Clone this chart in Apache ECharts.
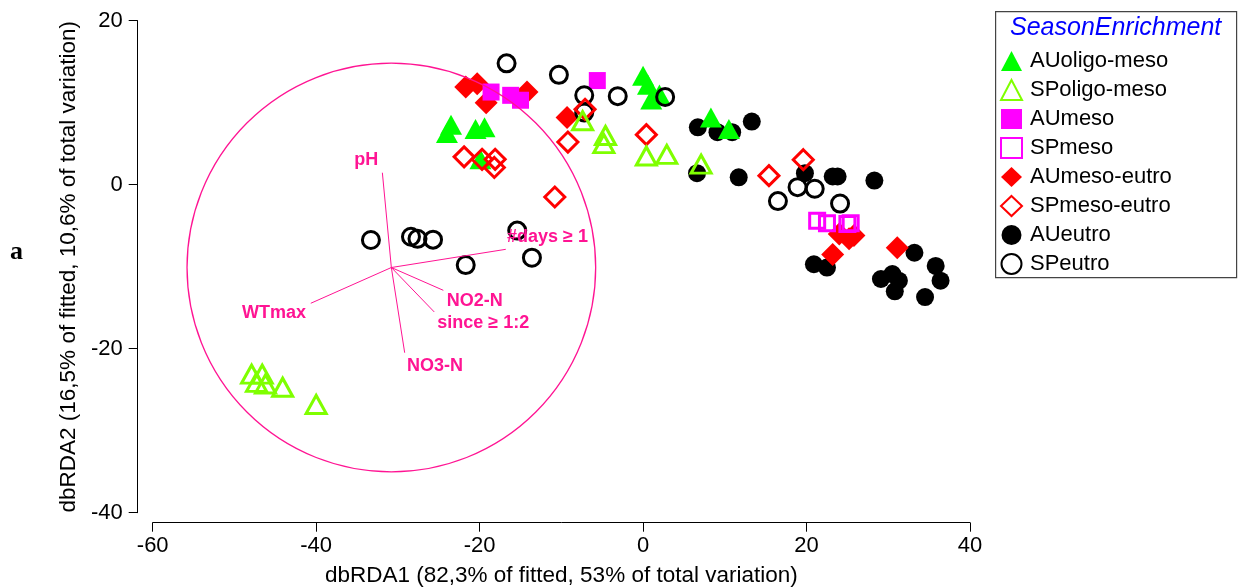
<!DOCTYPE html>
<html>
<head>
<meta charset="utf-8">
<script src="https://cdn.jsdelivr.net/npm/echarts@6/dist/echarts.min.js"></script>
<style>
  html, body { margin: 0; padding: 0; background: #ffffff; }
  #chart { width: 1239px; height: 587px; }
</style>
</head>
<body>
<div id="chart"></div>
<script>
// Axis ranges and tick spacing
const xRange = [-60, 40];
const yRange = [-40, 20];
const tickStep = 20;

// dbRDA site scores by group: [dbRDA1, dbRDA2]
const AUoligoMeso = [[-24.0, 6.3], [-23.5, 7.3], [-20.5, 6.8], [-19.4, 7.0], [-19.9, 3.1],
  [0.0, 13.3], [0.6, 12.2], [1.0, 10.4], [2.0, 11.0], [8.3, 8.2], [10.5, 6.8]];
const SPoligoMeso = [[-47.9, -23.1], [-46.6, -23.1], [-47.3, -24.1], [-46.2, -24.3], [-44.1, -24.7],
  [-40.0, -26.8], [-7.4, 7.8], [-4.6, 6.0], [-4.8, 5.0], [0.4, 3.5], [2.9, 3.7], [7.1, 2.5]];
const AUmeso = [[-18.6, 11.3], [-16.2, 10.9], [-15.0, 10.3], [-5.6, 12.7]];
const SPmeso = [[21.3, -4.4], [22.5, -4.7], [25.0, -4.8], [25.4, -4.7]];
const AUmesoEutro = [[-21.7, 11.9], [-20.3, 12.3], [-19.2, 10.0], [-14.2, 11.3], [-9.3, 8.2],
  [24.0, -6.0], [25.2, -6.6], [25.8, -6.2], [23.2, -8.5], [31.1, -7.7]];
const SPmesoEutro = [[-21.9, 3.4], [-19.7, 3.1], [-18.1, 3.1], [-18.2, 2.1], [-9.2, 5.2],
  [-7.1, 9.2], [-10.8, -1.5], [0.4, 6.1], [15.4, 1.1], [19.6, 3.05]];
const AUeutro = [[6.7, 7.0], [9.1, 6.4], [10.9, 6.4], [13.3, 7.7], [6.6, 1.4], [11.7, 0.9],
  [19.8, 1.4], [23.2, 1.0], [23.8, 1.0], [28.3, 0.5], [20.9, -9.7], [22.5, -10.1],
  [33.2, -8.3], [29.1, -11.5], [30.5, -10.9], [31.3, -11.7], [30.8, -13.0], [35.8, -9.9],
  [36.4, -11.7], [34.5, -13.7]];
const SPeutro = [[-16.7, 14.8], [-10.3, 13.4], [-7.2, 10.9], [-3.1, 10.8], [2.7, 10.7],
  [-7.2, 8.8], [16.5, -2.0], [18.9, -0.3], [21.0, -0.5], [24.1, -2.3], [-33.3, -6.75],
  [-28.4, -6.35], [-27.6, -6.6], [-25.7, -6.7], [-21.7, -9.8], [-15.4, -5.6], [-13.6, -8.9]];

// Environmental vectors (biplot arrows) and their correlation circle
const vectorOrigin = [-30.8, -10.1];
const vectorNames = ['pH', '#days \u2265 1', 'WTmax', 'NO2-N', 'since \u2265 1:2', 'NO3-N'];
const vectorEnds = [[-31.9, 1.46], [-16.8, -7.88], [-40.66, -14.46], [-24.44, -12.88],
  [-25.55, -15.52], [-29.17, -20.49]];
const circleRadius = 25;

// Legend order
const groupNames = ['AUoligo-meso', 'SPoligo-meso', 'AUmeso', 'SPmeso',
  'AUmeso-eutro', 'SPmeso-eutro', 'AUeutro', 'SPeutro'];

// Label placement relative to each arrow tip (pixels)
const vectorLabelLayout = [
  { dx: -4, dy: -12.4, align: 'right' },
  { dx: 1.3, dy: -12.3, align: 'left' },
  { dx: -4.7, dy: 9.4, align: 'right' },
  { dx: 3.4, dy: 10.7, align: 'left' },
  { dx: 3, dy: 10.7, align: 'left' },
  { dx: 2.3, dy: 13.3, align: 'left' }
];

const PINK = '#ff1493';
const FONT = '"Liberation Sans", Arial, sans-serif';

function filled(name, data, symbol, color, size) {
  return {
    name, type: 'scatter', data, symbol, symbolSize: size,
    itemStyle: { color, borderWidth: 0, opacity: 1 },
    emphasis: { disabled: true }
  };
}
function open(name, data, symbol, color, size) {
  return {
    name, type: 'scatter', data, symbol, symbolSize: size,
    itemStyle: { color: 'rgba(0,0,0,0)', borderColor: color, borderWidth: 3, opacity: 1 },
    emphasis: { disabled: true }
  };
}

const chart = echarts.init(document.getElementById('chart'), null, { renderer: 'canvas' });

const option = {
  animation: false,
  backgroundColor: '#ffffff',
  textStyle: { fontFamily: FONT },
  grid: {
    left: 152.7, right: 269, top: 20.7, bottom: 74.3,
    containLabel: false, outerBoundsMode: 'none'
  },
  xAxis: {
    type: 'value', min: xRange[0], max: xRange[1], interval: tickStep,
    position: 'bottom', offset: 10,
    name: 'dbRDA1 (82,3% of fitted, 53% of total variation)',
    nameLocation: 'middle', nameGap: 42,
    nameTextStyle: { fontSize: 22.5, color: '#000', fontFamily: FONT },
    axisLine: { show: true, onZero: false, lineStyle: { color: '#000', width: 1 } },
    axisTick: { show: true, length: 9, lineStyle: { color: '#000', width: 1 } },
    axisLabel: { fontSize: 22, color: '#000', margin: 12, fontFamily: FONT },
    splitLine: { show: false }
  },
  yAxis: {
    type: 'value', min: yRange[0], max: yRange[1], interval: tickStep,
    position: 'left', offset: 15,
    name: 'dbRDA2 (16,5% of fitted, 10,6% of total variation)',
    nameLocation: 'middle', nameGap: 55,
    nameTextStyle: { fontSize: 22.5, color: '#000', fontFamily: FONT },
    axisLine: { show: true, onZero: false, lineStyle: { color: '#000', width: 1 } },
    axisTick: { show: true, length: 9, lineStyle: { color: '#000', width: 1 } },
    axisLabel: { fontSize: 22, color: '#000', margin: 15, fontFamily: FONT },
    splitLine: { show: false }
  },
  legend: {
    orient: 'vertical', left: 995, top: 45,
    itemWidth: 21, itemHeight: 20, itemGap: 7,
    textStyle: { fontSize: 22, color: '#000', fontFamily: FONT, lineHeight: 22, padding: [0, 0, 0, 3] },
    selectedMode: false,
    data: groupNames
  },
  graphic: [
    {
      type: 'rect', left: 995, top: 11, z: 0,
      shape: { width: 241, height: 266 },
      style: { fill: '#fff', stroke: '#444', lineWidth: 1.2 }
    },
    {
      type: 'text', left: 1010, top: 16, z: 1,
      style: { text: 'SeasonEnrichment', fill: '#0000ff', font: 'italic 25px ' + FONT }
    },
    {
      type: 'text', left: 10, top: 239,
      style: { text: 'a', fill: '#000', font: 'bold 26px "Liberation Serif", "Times New Roman", serif' }
    }
  ],
  // autumn samples first, spring samples drawn over them
  series: [
    filled(groupNames[6], AUeutro, 'circle', '#000000', 18),
    filled(groupNames[4], AUmesoEutro, 'diamond', '#ff0000', 23),
    filled(groupNames[2], AUmeso, 'rect', '#ff00ff', 17),
    filled(groupNames[0], AUoligoMeso, 'triangle', '#00ff00', [22, 20]),
    open(groupNames[7], SPeutro, 'circle', '#000000', 17),
    open(groupNames[3], SPmeso, 'rect', '#ff00ff', 15),
    open(groupNames[5], SPmesoEutro, 'diamond', '#ff0000', 20),
    open(groupNames[1], SPoligoMeso, 'triangle', '#7fff00', [20, 18]),
    {
      name: 'circle', type: 'custom', silent: true, z: 5,
      data: [[vectorOrigin[0], vectorOrigin[1], circleRadius]],
      renderItem(params, api) {
        const c = api.coord([api.value(0), api.value(1)]);
        const r = api.size([api.value(2), 0])[0];
        return {
          type: 'circle',
          shape: { cx: c[0], cy: c[1], r },
          style: { fill: 'none', stroke: PINK, lineWidth: 1.3 }
        };
      }
    },
    {
      name: 'vectors', type: 'custom', silent: true, z: 6,
      data: vectorEnds,
      renderItem(params, api) {
        const i = params.dataIndex;
        const o = api.coord(vectorOrigin);
        const e = api.coord([api.value(0), api.value(1)]);
        const lay = vectorLabelLayout[i];
        return {
          type: 'group',
          children: [
            {
              type: 'line',
              shape: { x1: o[0], y1: o[1], x2: e[0], y2: e[1] },
              style: { stroke: PINK, lineWidth: 1 }
            },
            {
              type: 'text',
              x: e[0] + lay.dx, y: e[1] + lay.dy,
              style: {
                text: vectorNames[i], fill: PINK,
                font: 'bold 18px ' + FONT,
                align: lay.align, verticalAlign: 'middle'
              }
            }
          ]
        };
      }
    }
  ]
};

chart.setOption(option);
</script>
</body>
</html>
